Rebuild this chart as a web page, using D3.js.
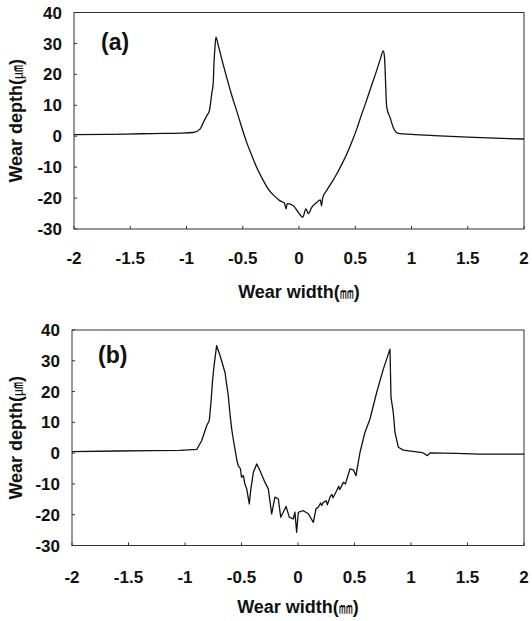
<!DOCTYPE html>
<html>
<head>
<meta charset="utf-8">
<script src="https://cdn.jsdelivr.net/npm/d3@7/dist/d3.min.js"></script>
<style>
  html, body { margin: 0; padding: 0; background: #fff; }
  svg { display: block; }
  .tick-label { font-family: "Liberation Sans", Arial, sans-serif; font-weight: bold; font-size: 17px; fill: #111; }
  .axis-title { font-family: "Liberation Sans", Arial, sans-serif; font-weight: bold; font-size: 18px; fill: #111; }
  .unit { font-family: "Noto Sans CJK SC", "Noto Sans CJK JP", sans-serif; font-weight: normal; font-size: 14px; fill: #111; }
  .panel-label { font-family: "Liberation Sans", Arial, sans-serif; font-weight: bold; font-size: 23px; fill: #111; }
</style>
</head>
<body>
<svg id="chart" width="532" height="621"></svg>
<script>
(function () {
  // ── Data ──────────────────────────────────────────────────────────────────

  const X_TICKS = [-2, -1.5, -1, -0.5, 0, 0.5, 1, 1.5, 2];
  const Y_TICKS = [-30, -20, -10, 0, 10, 20, 30, 40];

  // panel (a): wear width (mm) / wear depth (um)
  const widthA = [-2, -1.7, -1.4, -1.2, -1.06, -0.94, -0.88, -0.85, -0.82, -0.797,
    -0.776, -0.762, -0.756, -0.747, -0.738, -0.717, -0.68, -0.643, -0.6, -0.554,
    -0.51, -0.465, -0.42, -0.376, -0.325, -0.273, -0.22, -0.169, -0.13, -0.115,
    -0.105, -0.05, -0.006, 0.033, 0.062, 0.083, 0.113, 0.157, 0.19, 0.2,
    0.21, 0.245, 0.29, 0.335, 0.38, 0.424, 0.47, 0.513, 0.555, 0.6,
    0.645, 0.69, 0.72, 0.75, 0.76, 0.78, 0.809, 0.838, 0.883, 1.0,
    1.2, 1.5, 1.8, 2.0];
  const depthA = [0.5, 0.6, 0.8, 0.9, 1.0, 1.2, 2.3, 4.5, 6.6, 8.2,
    13.6, 17.4, 23.3, 28.7, 32, 29.3, 24, 19, 13.5, 8.2,
    3, -2, -6.2, -10.1, -13.8, -17.1, -19.3, -20.9, -21.6, -23.5,
    -21.8, -22.5, -24.6, -26.2, -23.5, -25, -23, -21.4, -20.6, -22.5,
    -20, -17.6, -15, -12.2, -9.1, -5.8, -1.8, 2.3, 6.9, 11.5,
    16.4, 21.2, 24.6, 27.6, 25.5, 9.3, 6.1, 2.8, 0.9, 0.6,
    0.2, -0.3, -0.7, -0.9];

  // panel (b)
  const widthB = [-2, -1.6, -1.3, -1.044, -0.896, -0.852, -0.808, -0.785, -0.77, -0.755,
    -0.743, -0.735, -0.72, -0.69, -0.646, -0.617, -0.6, -0.587, -0.575, -0.558,
    -0.54, -0.528, -0.51, -0.5, -0.484, -0.47, -0.454, -0.431, -0.419, -0.395,
    -0.365, -0.336, -0.292, -0.263, -0.233, -0.204, -0.174, -0.153, -0.13, -0.106,
    -0.077, -0.042, -0.027, -0.012, 0.003, 0.047, 0.091, 0.136, 0.159, 0.18,
    0.2, 0.21, 0.224, 0.25, 0.26, 0.283, 0.3, 0.31, 0.342, 0.36,
    0.37, 0.401, 0.42, 0.44, 0.46, 0.49, 0.513, 0.549, 0.593, 0.637,
    0.696, 0.755, 0.814, 0.823, 0.843, 0.858, 0.888, 0.932, 1.1, 1.145,
    1.17, 1.4, 1.6, 2.0];
  const depthB = [0.5, 0.7, 0.8, 0.9, 1.2, 4.1, 8.9, 10.6, 16.5, 24.1,
    28.4, 30.6, 34.9, 31.7, 26.2, 18.7, 12, 7.9, 5, 1.4,
    -2.5, -4.1, -5, -7.8, -7.3, -10, -11.6, -16.5, -12.2, -6.2,
    -3.5, -5.7, -9.5, -11.6, -19.7, -14.3, -14.9, -20.8, -19.2, -17.3,
    -20.8, -21.4, -19.2, -25.7, -19.2, -18.7, -19.7, -22.5, -18.1, -17.5,
    -16.2, -17, -16, -15.5, -16.8, -14.3, -13.4, -14.5, -12.2, -10.8,
    -11.8, -9.5, -10, -7.5, -5.1, -5.4, -7.3, 0.3, 6.8, 11.1,
    19.7, 27.3, 33.8, 18.1, 13.3, 6.8, 1.9, 1.0, 0.2, -0.8,
    0.1, -0.1, -0.3, -0.3];

  // ── Panels ────────────────────────────────────────────────────────────────

  const PANELS = [
    { label: '(a)', xs: widthA, ys: depthA, left: 74, right: 524, top: 12.5, bottom: 229,
      labelX: 101, labelY: 50, xLabelY: 264, xTitleY: 298, smooth: true },
    { label: '(b)', xs: widthB, ys: depthB, left: 72, right: 524, top: 330, bottom: 545.5,
      labelX: 98, labelY: 363, xLabelY: 583, xTitleY: 613, smooth: false },
  ];

  const svg = d3.select('#chart');

  function drawPanel(p) {
    const g = svg.append('g');
    const x = d3.scaleLinear().domain([-2, 2]).range([p.left, p.right]);
    const y = d3.scaleLinear().domain([-30, 40]).range([p.bottom, p.top]);

    // frame
    g.append('rect')
      .attr('x', p.left).attr('y', p.top)
      .attr('width', p.right - p.left).attr('height', p.bottom - p.top)
      .attr('fill', 'none')
      .attr('stroke', '#333')
      .attr('stroke-width', 1);

    // inward ticks
    g.selectAll('.ytick').data(Y_TICKS).join('line')
      .attr('x1', p.left).attr('x2', p.left + 3)
      .attr('y1', function (d) { return y(d); })
      .attr('y2', function (d) { return y(d); })
      .attr('stroke', '#333').attr('stroke-width', 1);
    g.selectAll('.xtick').data(X_TICKS).join('line')
      .attr('x1', function (d) { return x(d); })
      .attr('x2', function (d) { return x(d); })
      .attr('y1', p.bottom).attr('y2', p.bottom - 3)
      .attr('stroke', '#333').attr('stroke-width', 1);

    // tick labels
    g.selectAll('.ylab').data(Y_TICKS).join('text')
      .attr('class', 'tick-label')
      .attr('x', p.left - 12)
      .attr('y', function (d) { return y(d); })
      .attr('dy', '0.36em')
      .attr('text-anchor', 'end')
      .text(function (d) { return d; });
    g.selectAll('.xlab').data(X_TICKS).join('text')
      .attr('class', 'tick-label')
      .attr('x', function (d) { return x(d); })
      .attr('y', p.xLabelY)
      .attr('text-anchor', 'middle')
      .text(function (d) { return d; });

    // axis titles
    const xt = g.append('text')
      .attr('class', 'axis-title')
      .attr('x', (p.left + p.right) / 2)
      .attr('y', p.xTitleY)
      .attr('text-anchor', 'middle');
    xt.append('tspan').text('Wear width(');
    xt.append('tspan').attr('class', 'unit').text('㎜');
    xt.append('tspan').text(')');

    const cy = (p.top + p.bottom) / 2;
    const yt = g.append('text')
      .attr('class', 'axis-title')
      .attr('transform', 'translate(22,' + cy + ') rotate(-90)')
      .attr('text-anchor', 'middle');
    yt.append('tspan').text('Wear depth(');
    yt.append('tspan').attr('class', 'unit').text('㎛');
    yt.append('tspan').text(')');

    // panel label
    g.append('text')
      .attr('class', 'panel-label')
      .attr('x', p.labelX).attr('y', p.labelY)
      .text(p.label);

    // profile curve
    const line = d3.line()
      .x(function (d) { return x(d[0]); })
      .y(function (d) { return y(d[1]); })
      .curve(p.smooth ? d3.curveMonotoneX : d3.curveLinear);
    g.append('path')
      .datum(d3.zip(p.xs, p.ys))
      .attr('d', line)
      .attr('fill', 'none')
      .attr('stroke', '#111')
      .attr('stroke-width', 1.3)
      .attr('stroke-linejoin', 'round');
  }

  PANELS.forEach(drawPanel);
})();
</script>
</body>
</html>
